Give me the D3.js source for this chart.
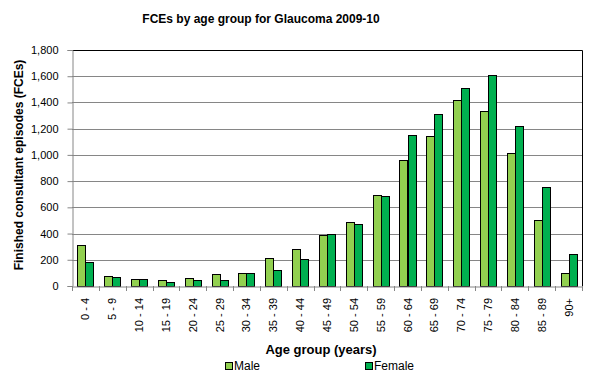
<!DOCTYPE html>
<html>
<head>
<meta charset="utf-8">
<script src="https://cdn.jsdelivr.net/npm/d3@7"></script>
<style>
  body { margin: 0; background: #fff; }
  text { font-family: "Liberation Sans", Arial, sans-serif; }
</style>
</head>
<body>
<script>
var ageGroups = ["0 - 4","5 - 9","10 - 14","15 - 19","20 - 24","25 - 29","30 - 34","35 - 39","40 - 44","45 - 49",
                 "50 - 54","55 - 59","60 - 64","65 - 69","70 - 74","75 - 79","80 - 84","85 - 89","90+"]
var male   = [310, 74, 51, 43, 59, 89, 97, 211, 280, 387, 486, 692, 959, 1147, 1416, 1333, 1012, 501, 97]
var female = [181, 66, 51, 28, 43, 43, 97, 120, 204, 394, 471, 684, 1149, 1310, 1508, 1607, 1218, 753, 242]
var yTicks = [0, 200, 400, 600, 800, 1000, 1200, 1400, 1600, 1800]
var seriesNames = ["Male", "Female"]
var colors = ["#92d050", "#00b050"]

var w = 593, h = 383
// plot area edges (note: "top" is reserved on window, so use pTop etc.)
var pLeft = 72, pRight = 582, pTop = 50, pBottom = 286

var svg = d3.select("body").append("svg").attr("width", w).attr("height", h)

var x = d3.scaleBand().domain(ageGroups).range([pLeft, pRight]).padding(0)
var y = d3.scaleLinear().domain([0, 1800]).range([pBottom, pTop])
var bw = x.bandwidth() * 0.3

// gridlines
svg.append("g").selectAll("line").data(yTicks.slice(1, -1)).enter().append("line")
  .attr("x1", pLeft).attr("x2", pRight)
  .attr("y1", function(d) { return Math.round(y(d)) + .5 })
  .attr("y2", function(d) { return Math.round(y(d)) + .5 })
  .attr("stroke", "#868686").attr("stroke-width", 1)

// plot border top & right
svg.append("path")
  .attr("d", "M" + pLeft + "," + (pTop + .5) + "H" + (pRight + .5) + "V" + pBottom)
  .attr("fill", "none").attr("stroke", "#000")

// bars
var series = [male, female]
series.forEach(function(vals, si) {
  svg.append("g").selectAll("rect").data(vals).enter().append("rect")
    .attr("x", function(d, i) { return Math.round(x(ageGroups[i]) + x.bandwidth() / 2 - bw + si * bw) + .5 })
    .attr("y", function(d) { return Math.round(y(d)) + .5 })
    .attr("width", Math.round(bw))
    .attr("height", function(d) { return pBottom - Math.round(y(d)) })
    .attr("fill", colors[si])
    .attr("stroke", "#000").attr("stroke-width", 1)
})

// y axis
var yAxis = svg.append("g").attr("transform", "translate(" + (pLeft + .5) + ",0)")
  .call(d3.axisLeft(y).tickValues(yTicks).tickSize(5).tickPadding(9).tickFormat(d3.format(",")))
yAxis.select(".domain").attr("stroke", "#868686")
yAxis.selectAll(".tick line").attr("stroke", "#868686")
yAxis.selectAll("text").attr("font-size", 11).attr("fill", "#000")
  .attr("font-family", "Liberation Sans, Arial, sans-serif")

// x axis
var xAxis = svg.append("g").attr("transform", "translate(0," + (pBottom + .5) + ")")
  .call(d3.axisBottom(x).tickSize(0).tickFormat(""))
xAxis.select(".domain").attr("stroke", "#868686")
svg.append("g").selectAll("line").data(ageGroups.concat(["end"])).enter().append("line")
  .attr("x1", function(d, i) { return Math.round(pLeft + i * x.bandwidth()) + .5 })
  .attr("x2", function(d, i) { return Math.round(pLeft + i * x.bandwidth()) + .5 })
  .attr("y1", pBottom).attr("y2", pBottom + 5)
  .attr("stroke", "#868686")

svg.append("g").selectAll("text").data(ageGroups).enter().append("text")
  .attr("transform", function(d) { return "translate(" + (x(d) + x.bandwidth() / 2 + 4) + "," + (pBottom + 12) + ") rotate(-90)" })
  .attr("text-anchor", "end")
  .attr("font-size", 11)
  .text(function(d) { return d })

// title and axis titles
svg.append("text").attr("x", 261).attr("y", 23).attr("text-anchor", "middle")
  .attr("font-size", 12).attr("font-weight", "bold").text("FCEs by age group for Glaucoma 2009-10")
svg.append("text").attr("transform", "translate(23,165) rotate(-90)").attr("text-anchor", "middle")
  .attr("font-size", 12).attr("font-weight", "bold").text("Finished consultant episodes (FCEs)")
svg.append("text").attr("x", 321).attr("y", 354).attr("text-anchor", "middle")
  .attr("font-size", 13).attr("font-weight", "bold").text("Age group (years)")

// legend
var legendX = [225, 365]
seriesNames.forEach(function(name, i) {
  svg.append("rect").attr("x", legendX[i] + .5).attr("y", 362.5).attr("width", 7).attr("height", 7)
    .attr("fill", colors[i]).attr("stroke", "#000")
  svg.append("text").attr("x", legendX[i] + 9).attr("y", 370).attr("font-size", 12).text(name)
})
</script>
</body>
</html>
